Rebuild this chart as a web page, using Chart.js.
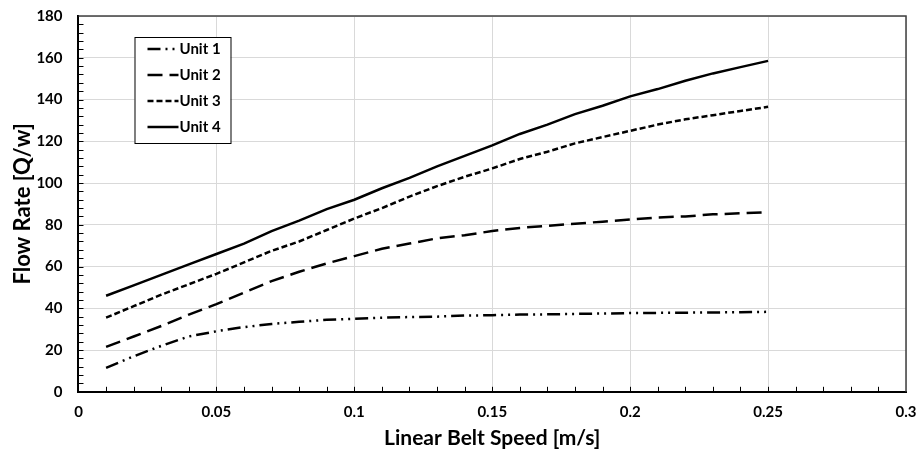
<!DOCTYPE html>
<html>
<head>
<meta charset="utf-8">
<script src="https://cdn.jsdelivr.net/npm/chart.js@4"></script>
<style>
  html, body { margin: 0; padding: 0; background: #ffffff; }
  #wrap { width: 919px; height: 455px; }
</style>
</head>
<body>
<div id="wrap"><canvas id="flow-chart" width="919" height="455"></canvas></div>
<script>
// belt speed samples [m/s]
const beltSpeeds = [0.01, 0.02, 0.03, 0.04, 0.05, 0.06, 0.07, 0.08, 0.09, 0.10,
  0.11, 0.12, 0.13, 0.14, 0.15, 0.16, 0.17, 0.18, 0.19, 0.20,
  0.21, 0.22, 0.23, 0.24, 0.25];

// flow rate per unit [Q/w]
const unit1Flow = [11.5, 17, 22, 26.5, 29, 31, 32.5, 33.5, 34.5, 35,
  35.5, 35.8, 36, 36.5, 36.7, 37, 37.1, 37.3, 37.5, 37.7,
  37.8, 37.9, 38, 38.1, 38.3];
const unit2Flow = [21.5, 26.5, 31.5, 37, 42, 47.5, 53, 57.5, 61.5, 65,
  68.5, 71, 73.5, 75, 77, 78.5, 79.5, 80.5, 81.5, 82.5,
  83.5, 84, 85, 85.5, 86];
const unit3Flow = [35.5, 41, 46.5, 51.5, 56.5, 62, 67.5, 72, 77.5, 83,
  88, 93.5, 98.5, 103, 107, 111.5, 115, 119, 122, 125,
  128, 130.5, 132.5, 134.5, 136.5];
const unit4Flow = [46, 51, 56, 61, 66, 71, 77, 82, 87.5, 92,
  97.5, 102.5, 108, 113, 118, 123.5, 128, 133, 137, 141.5,
  145, 149, 152.5, 155.5, 158.5];

const unitLabels = ["Unit 1", "Unit 2", "Unit 3", "Unit 4"];
const xTicks = [0, 0.05, 0.1, 0.15, 0.2, 0.25, 0.3];

const dashes = [[13, 5, 2, 5, 2, 5], [15, 7], [6, 3], []];
const series = [unit1Flow, unit2Flow, unit3Flow, unit4Flow];

Chart.defaults.font.family = "Lato, 'Open Sans', sans-serif";
Chart.defaults.font.weight = "bold";
Chart.defaults.color = "#000000";

function toPoints(values) {
  return values.map((v, i) => ({x: beltSpeeds[i], y: v}));
}

// minor ticks pointing into the plot, plus the top/right frame
const frameAndMinorTicks = {
  id: "frameAndMinorTicks",
  afterDraw(chart) {
    const ctx = chart.ctx;
    const area = chart.chartArea;
    const xs = chart.scales.x;
    const ys = chart.scales.y;
    ctx.save();
    ctx.strokeStyle = "#404040";
    ctx.lineWidth = 1.5;
    ctx.beginPath();
    ctx.moveTo(area.left, area.top);
    ctx.lineTo(area.right, area.top);
    ctx.lineTo(area.right, area.bottom);
    ctx.stroke();

    ctx.strokeStyle = "#000000";
    ctx.lineWidth = 1;
    ctx.beginPath();
    for (let i = 1; i < 30; i++) {
      const px = Math.round(xs.getPixelForValue(i / 100)) + 0.5;
      ctx.moveTo(px, area.bottom);
      ctx.lineTo(px, area.bottom - 5);
    }
    for (let v = 4; v < 180; v += 4) {
      const py = Math.round(ys.getPixelForValue(v)) + 0.5;
      ctx.moveTo(area.left, py);
      ctx.lineTo(area.left + 5, py);
    }
    ctx.stroke();
    ctx.restore();
  }
};

// boxed legend with dashed line samples
const boxedLegend = {
  id: "boxedLegend",
  afterDraw(chart) {
    const ctx = chart.ctx;
    const area = chart.chartArea;
    const bx = area.left + 56, by = area.top + 21, bw = 96, bh = 106;
    ctx.save();
    ctx.fillStyle = "#ffffff";
    ctx.fillRect(bx, by, bw, bh);
    ctx.strokeStyle = "#000000";
    ctx.lineWidth = 1;
    ctx.strokeRect(bx + 0.5, by + 0.5, bw, bh);
    ctx.font = "bold 15px Lato, 'Open Sans', sans-serif";
    ctx.textBaseline = "middle";
    ctx.fillStyle = "#000000";
    chart.data.datasets.forEach((ds, i) => {
      const y = by + 12 + i * 26;
      ctx.setLineDash(ds.borderDash || []);
      ctx.lineWidth = 2.5;
      ctx.beginPath();
      ctx.moveTo(bx + 13, y);
      ctx.lineTo(bx + 44, y);
      ctx.stroke();
      ctx.setLineDash([]);
      ctx.fillText(ds.label, bx + 45, y);
    });
    ctx.restore();
  }
};

new Chart(document.getElementById("flow-chart").getContext("2d"), {
  type: "line",
  data: {
    datasets: series.map((values, i) => ({
      label: unitLabels[i],
      data: toPoints(values),
      borderColor: "#000000",
      borderWidth: 2.5,
      borderDash: dashes[i],
      pointRadius: 0,
      tension: 0,
      fill: false
    }))
  },
  options: {
    responsive: false,
    animation: false,
    layout: {padding: {left: 10, right: 13, top: 16, bottom: 4}},
    plugins: {
      legend: {display: false},
      tooltip: {enabled: false}
    },
    scales: {
      x: {
        type: "linear",
        min: 0,
        max: 0.3,
        afterBuildTicks: scale => {
          scale.ticks = xTicks.map(v => ({value: v}));
        },
        afterFit: scale => {
          scale.paddingLeft = 0;
          scale.paddingRight = 0;
        },
        ticks: {
          font: {size: 15, weight: "bold"},
          padding: 11,
          maxRotation: 0,
          callback: v => String(v)
        },
        grid: {color: "#d9d9d9", lineWidth: 1, drawTicks: false},
        border: {display: true, color: "#000000", width: 2},
        title: {
          display: true,
          text: "Linear Belt Speed [m/s]",
          font: {size: 21, weight: "bold"},
          padding: {top: -6, bottom: 0}
        }
      },
      y: {
        min: 0,
        max: 180,
        afterFit: scale => {
          scale.paddingTop = 0;
          scale.paddingBottom = 0;
        },
        ticks: {
          stepSize: 20,
          font: {size: 15, weight: "bold"},
          padding: 16
        },
        grid: {color: "#d9d9d9", lineWidth: 1, drawTicks: false},
        border: {display: true, color: "#000000", width: 2},
        title: {
          display: true,
          text: "Flow Rate [Q/w]",
          font: {size: 22, weight: "bold"},
          padding: {top: 0, bottom: -16}
        }
      }
    }
  },
  plugins: [frameAndMinorTicks, boxedLegend]
});
</script>
</body>
</html>
